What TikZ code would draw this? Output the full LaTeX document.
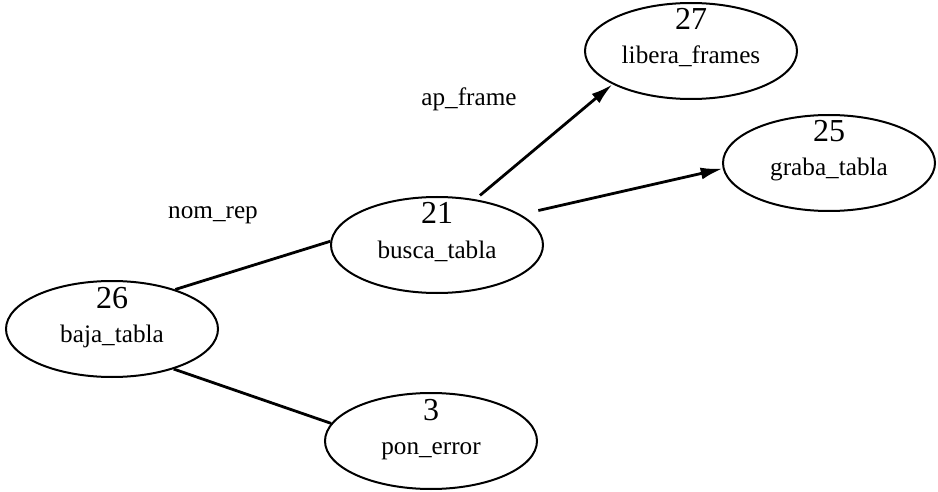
\documentclass[tikz,border=0pt]{standalone}
\usepackage{fontspec}
\setmainfont{Liberation Serif}
\usetikzlibrary{arrows.meta, shapes.geometric, calc}

\tikzset{
    proc/.style={draw, ellipse, line width=1pt, minimum width=106pt, minimum height=48pt, inner sep=0pt},
    num/.style={anchor=base, font=\fontsize{16}{18}\selectfont},
    fname/.style={anchor=base, font=\fontsize{12.6}{14}\selectfont},
    lbl/.style={font=\fontsize{12.6}{14}\selectfont},
    link/.style={line width=1.4pt},
    call/.style={link, -{Latex[length=11pt,width=6pt]}}
}

\begin{document}
\begin{tikzpicture}[x=0.5pt, y=-0.5pt]
        \useasboundingbox (0,0) rectangle (938,492);

        \node[proc] (baja) at (112,329) {};
        \node[proc] (busca) at (437,245) {};
        \node[proc] (libera) at (691,51) {};
        \node[proc] (graba) at (829,163) {};
        \node[proc] (pon) at (431,441) {};

        \node[num] (n26) at ([yshift=10.5pt]baja.center) {26};
        \node[fname] (t26) at ([yshift=-6.5pt]baja.center) {baja\_tabla};
        \node[num] (n21) at ([yshift=10.5pt]busca.center) {21};
        \node[fname] (t21) at ([yshift=-6.5pt]busca.center) {busca\_tabla};
        \node[num] (n27) at ([yshift=10.5pt]libera.center) {27};
        \node[fname] (t27) at ([yshift=-6.5pt]libera.center) {libera\_frames};
        \node[num] (n25) at ([yshift=10.5pt]graba.center) {25};
        \node[fname] (t25) at ([yshift=-6.5pt]graba.center) {graba\_tabla};
        \node[num] (n3) at ([yshift=10.5pt]pon.center) {3};
        \node[fname] (t3) at ([yshift=-6.5pt]pon.center) {pon\_error};

        \draw[link] (baja.32) -- (busca.178);
        \draw[link] (baja.-33) -- (pon.170);
        \draw[call, shorten <=3pt] (busca.50) -- (libera.203);
        \draw[call, shorten <=9pt] (busca.20) -- (graba.183);

        \node[lbl] (nomrep) at (213,215) {nom\_rep};
        \node[lbl] (apframe) at (469,99) {ap\_frame};
    \end{tikzpicture}
\end{document}
